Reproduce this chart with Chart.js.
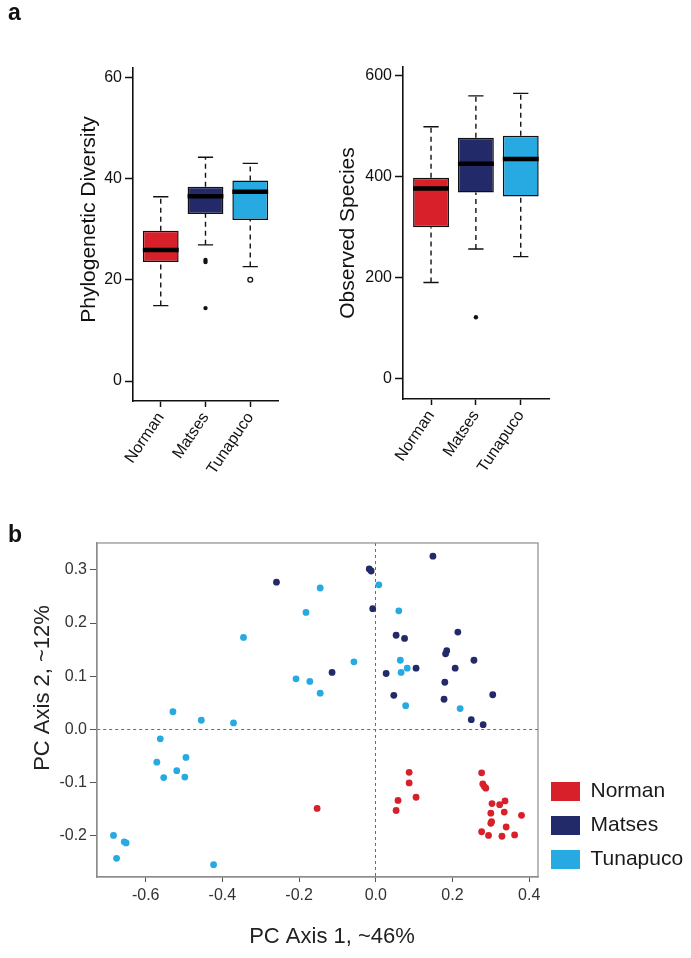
<!DOCTYPE html>
<html>
<head>
<meta charset="utf-8">
<script src="https://cdn.jsdelivr.net/npm/chart.js@4.4.1/dist/chart.umd.min.js"></script>
<style>
html, body { margin: 0; padding: 0; background: #ffffff; }
body { width: 691px; height: 958px; position: relative; overflow: hidden; }
canvas { position: absolute; }
#pdChart { left: 0; top: 0; }
#osChart { left: 320px; top: 0; }
#pcChart { left: 0; top: 500px; }
</style>
</head>
<body>
<canvas id="pdChart" width="320" height="480"></canvas>
<canvas id="osChart" width="371" height="480"></canvas>
<canvas id="pcChart" width="691" height="458"></canvas>
<script>
// ---------- data ----------
const groups = ['Norman', 'Matses', 'Tunapuco'];
const groupColors = ['#d7202a', '#222a6a', '#27aae1'];

// Phylogenetic Diversity boxplot
const pdLow = [14.9, 26.9, 22.6];
const pdQ1 = [23.5, 33.0, 31.8];
const pdMedian = [25.9, 36.5, 37.4];
const pdQ3 = [29.7, 38.4, 39.6];
const pdHigh = [36.4, 44.2, 43.0];
const pdOutliers = [[], [23.5, 23.9, 14.4], [20.0]];
const pdTicks = [0, 20, 40, 60];

// Observed Species boxplot
const osLow = [191, 257, 242];
const osQ1 = [300, 369, 361];
const osMedian = [377, 426, 435];
const osQ3 = [398, 477, 481];
const osHigh = [499, 560, 565];
const osOutliers = [[], [122], []];
const osTicks = [0, 200, 400, 600];

// PCoA scatter
const normanPC1 = [-0.153, 0.087, 0.087, 0.105, 0.058, 0.053, 0.276, 0.279, 0.283, 0.287, 0.303, 0.323, 0.337, 0.300, 0.335, 0.380, 0.302, 0.300, 0.340, 0.276, 0.294, 0.329, 0.362];
const normanPC2 = [-0.149, -0.081, -0.101, -0.128, -0.134, -0.153, -0.082, -0.103, -0.108, -0.111, -0.140, -0.142, -0.135, -0.158, -0.156, -0.162, -0.174, -0.177, -0.184, -0.193, -0.200, -0.2015, -0.199];
const matsesPC1 = [-0.259, 0.149, -0.017, -0.012, -0.008, 0.214, 0.053, 0.075, 0.185, 0.182, 0.256, 0.105, 0.207, -0.114, 0.027, 0.180, 0.047, 0.305, 0.178, 0.249, 0.280];
const matsesPC2 = [0.277, 0.326, 0.302, 0.298, 0.227, 0.183, 0.177, 0.171, 0.148, 0.142, 0.130, 0.115, 0.115, 0.107, 0.105, 0.0885, 0.064, 0.065, 0.0565, 0.018, 0.0087];
const tunapucoPC1 = [-0.145, -0.182, -0.345, -0.208, -0.172, -0.145, -0.529, 0.008, 0.060, -0.057, 0.064, 0.082, 0.066, 0.078, 0.220, -0.455, -0.371, -0.562, -0.495, -0.571, -0.519, -0.553, -0.498, -0.684, -0.656, -0.651, -0.676, -0.423];
const tunapucoPC2 = [0.266, 0.220, 0.173, 0.095, 0.090, 0.068, 0.033, 0.272, 0.223, 0.127, 0.130, 0.115, 0.107, 0.0445, 0.039, 0.017, 0.012, -0.018, -0.053, -0.062, -0.078, -0.091, -0.090, -0.200, -0.212, -0.214, -0.243, -0.255];
const pcXTicks = [-0.6, -0.4, -0.2, 0, 0.2, 0.4];
const pcYTicks = [-0.2, -0.1, 0, 0.1, 0.2, 0.3];

// ---------- helpers ----------
Chart.defaults.font.family = "'Liberation Sans', Arial, Helvetica, sans-serif";
Chart.defaults.color = '#111';

const CAP = 0.17;   // half-width of whisker caps (x units)
const HALF = 0.4;   // half-width of box (x units)

// moves an axis title off the centre of its axis, as in the reference figure
function shiftTitle(dx, dy) {
  return s => {
    if (s.$titleShifted) return;
    s.$titleShifted = true;
    const draw = s.drawTitle;
    s.drawTitle = function () {
      const c = this.ctx;
      c.save();
      c.translate(dx, dy);
      draw.call(this);
      c.restore();
    };
  };
}

function buildBoxDatasets(low, q1, med, q3, high, outliers) {
  const whiskers = [], caps = [], medians = [], boxes = [], outs = [];
  groups.forEach((g, i) => {
    const x = i + 1;
    boxes.push({x: x, y: [q1[i], q3[i]]});
    whiskers.push({x: x, y: low[i]}, {x: x, y: q1[i]}, {x: x, y: null},
                  {x: x, y: q3[i]}, {x: x, y: high[i]}, {x: x, y: null});
    caps.push({x: x - CAP, y: low[i]}, {x: x + CAP, y: low[i]}, {x: x, y: null},
              {x: x - CAP, y: high[i]}, {x: x + CAP, y: high[i]}, {x: x, y: null});
    medians.push({x: x - HALF, y: med[i]}, {x: x + HALF, y: med[i]}, {x: x, y: null});
    outliers[i].forEach(v => outs.push({x: x, y: v}));
  });
  return [
    {type: 'line', data: whiskers, borderColor: '#111', borderWidth: 1.4, borderDash: [5, 4],
     pointRadius: 0, spanGaps: false, fill: false, order: 4},
    {type: 'bar', data: boxes, backgroundColor: groupColors, borderColor: '#111', borderWidth: 1.5,
     borderSkipped: false, categoryPercentage: 1, barPercentage: 0.8, order: 3},
    {type: 'line', data: medians, borderColor: '#000', borderWidth: 4.5, borderCapStyle: 'butt',
     pointRadius: 0, spanGaps: false, fill: false, order: 2},
    {type: 'line', data: caps, borderColor: '#111', borderWidth: 1.4, pointRadius: 0,
     spanGaps: false, fill: false, order: 1},
    {type: 'scatter', data: outs, order: 0,
     pointRadius: ctx => (ctx.raw && ctx.raw.x === 3 ? 2.4 : 2.2),
     pointBackgroundColor: ctx => (ctx.raw && ctx.raw.x === 3 ? '#ffffff' : '#111'),
     pointBorderColor: '#111',
     pointBorderWidth: ctx => (ctx.raw && ctx.raw.x === 3 ? 1.3 : 0)}
  ];
}

function boxChart(id, cfg) {
  return new Chart(document.getElementById(id), {
    type: 'bar',
    data: {datasets: buildBoxDatasets(cfg.low, cfg.q1, cfg.med, cfg.q3, cfg.high, cfg.outliers)},
    options: {
      animation: false, responsive: false, events: [],
      layout: {padding: cfg.padding},
      plugins: {
        legend: {display: false},
        tooltip: {enabled: false},
        title: cfg.panel ? {display: true, text: cfg.panel, align: 'start',
          font: {size: 23, weight: 'bold'}, color: '#111', padding: {top: 0, bottom: cfg.panelGap}} : {display: false}
      },
      scales: {
        x: {
          type: 'linear', min: cfg.xMin, max: cfg.xMax, offset: false,
          afterBuildTicks: s => { s.ticks = groups.map((g, i) => ({value: i + 1})); },
          afterFit: s => { s.height = cfg.xHeight; },
          ticks: {callback: (v, i) => groups[i], minRotation: 56, maxRotation: 56, autoSkip: false,
                  padding: 2, font: {size: 16}, color: '#111'},
          grid: {drawOnChartArea: false, drawTicks: true, tickLength: 6, tickColor: '#111', tickWidth: 1.5, offset: false},
          border: {display: true, color: '#111', width: 1.6}
        },
        y: {
          type: 'linear', min: cfg.yMin, max: cfg.yMax,
          afterBuildTicks: s => { s.ticks = cfg.ticks.map(v => ({value: v})); },
          afterFit: s => { s.width = cfg.yWidth; },
          afterUpdate: shiftTitle(0, cfg.titleShift),
          ticks: {font: {size: 16}, color: '#111', padding: 3},
          grid: {drawOnChartArea: false, drawTicks: true, tickLength: 8, tickColor: '#111', tickWidth: 1.5},
          border: {display: true, color: '#111', width: 1.6},
          title: {display: true, text: cfg.title, font: {size: 21}, color: '#111',
                  padding: {top: cfg.titleGap, bottom: 0}}
        }
      }
    }
  });
}

boxChart('pdChart', {
  low: pdLow, q1: pdQ1, med: pdMedian, q3: pdQ3, high: pdHigh, outliers: pdOutliers, ticks: pdTicks,
  title: 'Phylogenetic Diversity', panel: 'a', panelGap: 40.4, titleShift: -15,
  padding: {left: 8, right: 42, top: 0, bottom: 0},
  xMin: 0.38, xMax: 3.62, yMin: -3.95, yMax: 61.84, xHeight: 79, yWidth: 125, titleGap: 68.4
});

boxChart('osChart', {
  low: osLow, q1: osQ1, med: osMedian, q3: osQ3, high: osHigh, outliers: osOutliers, ticks: osTicks,
  title: 'Observed Species', panel: null, titleShift: 0,
  padding: {left: 0, right: 142, top: 67, bottom: 0},
  xMin: 0.375, xMax: 3.63, yMin: -39.6, yMax: 617.2, xHeight: 81, yWidth: 83, titleGap: 15.4
});

// ---------- PCoA ----------
const zip = (xs, ys) => xs.map((x, i) => ({x: x, y: ys[i]}));

const framePlugin = {
  id: 'frame',
  afterDatasetsDraw(chart, args, opts) {
    const {ctx, chartArea: a} = chart;
    ctx.save();
    ctx.strokeStyle = opts.color;
    ctx.lineWidth = opts.width;
    ctx.strokeRect(a.left, a.top, a.right - a.left, a.bottom - a.top);
    ctx.restore();
  }
};
const legendShift = {
  id: 'legendShift',
  afterLayout(chart, args, opts) {
    const l = chart.legend;
    if (l) { l.top += opts.dy; l.bottom += opts.dy; }
  }
};

const zeroLine = c => (c.tick && c.tick.value === 0 ? '#6a6a6a' : 'rgba(0,0,0,0)');

new Chart(document.getElementById('pcChart'), {
  type: 'scatter',
  data: {
    datasets: [
      {label: groups[0], data: zip(normanPC1, normanPC2), backgroundColor: groupColors[0], borderWidth: 0, pointRadius: 3.4},
      {label: groups[1], data: zip(matsesPC1, matsesPC2), backgroundColor: groupColors[1], borderWidth: 0, pointRadius: 3.4},
      {label: groups[2], data: zip(tunapucoPC1, tunapucoPC2), backgroundColor: groupColors[2], borderWidth: 0, pointRadius: 3.4}
    ]
  },
  options: {
    animation: false, responsive: false, events: [],
    layout: {padding: {left: 8, right: 3, top: 0, bottom: 0}},
    plugins: {
      title: {display: true, text: 'b', align: 'start', font: {size: 23, weight: 'bold', lineHeight: 0.66},
              color: '#111', padding: {top: 27.8, bottom: 0}},
      legend: {display: true, position: 'right', align: 'end', fullSize: false, maxWidth: 150,
               labels: {boxWidth: 29, boxHeight: 19, padding: 13, font: {size: 21}, color: '#1a1a1a'}},
      tooltip: {enabled: false},
      frame: {color: '#8c8c8c', width: 1.2},
      legendShift: {dy: 6}
    },
    scales: {
      x: {
        type: 'linear', min: -0.727, max: 0.423,
        afterBuildTicks: s => { s.ticks = pcXTicks.map(v => ({value: v})); },
        afterFit: s => { s.height = 81; },
        afterUpdate: shiftTitle(14.5, 0),
        ticks: {callback: v => Number(v).toFixed(1), font: {size: 16}, color: '#333', padding: 4},
        grid: {color: zeroLine, lineWidth: 1, drawTicks: true, tickLength: 5, tickColor: '#555', tickWidth: 1},
        border: {display: true, color: '#8c8c8c', width: 1.2, dash: [3, 3]},
        title: {display: true, text: 'PC Axis 1, ~46%', font: {size: 22}, color: '#222', padding: {top: 0, bottom: 7.8}}
      },
      y: {
        type: 'linear', min: -0.2782, max: 0.3508,
        afterBuildTicks: s => { s.ticks = pcYTicks.map(v => ({value: v})); },
        afterFit: s => { s.width = 89; },
        afterUpdate: shiftTitle(0, -22),
        ticks: {callback: v => Number(v).toFixed(1), font: {size: 16}, color: '#333', padding: 3},
        grid: {color: zeroLine, lineWidth: 1, drawTicks: true, tickLength: 7, tickColor: '#555', tickWidth: 1},
        border: {display: true, color: '#8c8c8c', width: 1.2, dash: [3, 3]},
        title: {display: true, text: 'PC Axis 2, ~12%', font: {size: 22}, color: '#222', padding: {top: 21.3, bottom: 0}}
      }
    }
  },
  plugins: [framePlugin, legendShift]
});
</script>
</body>
</html>
